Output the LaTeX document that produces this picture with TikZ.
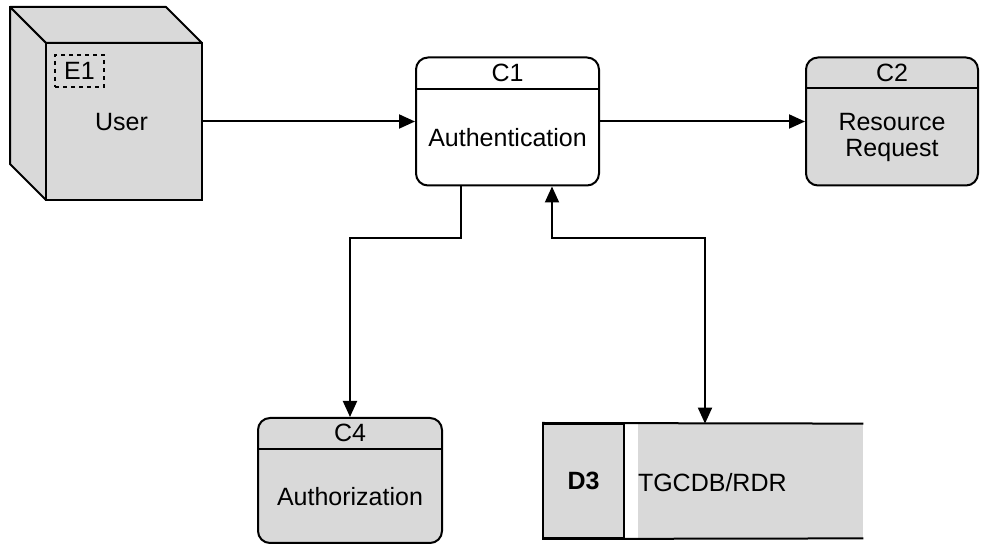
\documentclass[tikz,border=0pt]{standalone}
\usepackage{fontspec}
\setmainfont{Liberation Sans}
\usetikzlibrary{arrows.meta}
\definecolor{boxgray}{HTML}{D9D9D9}
\tikzset{
  proc/.style={draw,rounded corners=6pt,line width=1pt,inner sep=0pt,minimum height=64pt},
  flow/.style={-{Triangle[length=8pt,width=7pt]},line width=1pt},
}
\begin{document}
\begin{tikzpicture}[x=0.5pt,y=-0.5pt,font=\fontsize{12.5}{13}\selectfont]
\useasboundingbox (0,0) rectangle (981,544);
% external entity
\filldraw[fill=boxgray,line width=1pt,line join=round] (10,7) -- (166,7) -- (202,43) -- (46,43) -- cycle;
\filldraw[fill=boxgray,line width=1pt,line join=round] (10,7) -- (46,43) -- (46,200) -- (10,164) -- cycle;
\node[draw,fill=boxgray,line width=1pt,inner sep=0pt,minimum width=78pt,minimum height=78.5pt] (U) at (124,121.5) {};
\node[draw,dash pattern=on 2pt off 2pt,line width=0.7pt,inner sep=0pt,minimum width=24.5pt,minimum height=16pt] (E1) at (79.5,71) {E1};
\node (user) at (121.5,122) {User};
% processes
\node[proc,fill=white,minimum width=91.5pt] (C1) at (507.5,121.5) {};
\draw[line width=1pt] ([yshift=-16.25pt]C1.north west) -- ([yshift=-16.25pt]C1.north east);
\node at ([yshift=-8pt]C1.north) {C1};
\node (auth) at (507.5,138) {Authentication};
\node[proc,fill=boxgray,minimum width=86pt] (C2) at (892,121.5) {};
\draw[line width=1pt] ([yshift=-16pt]C2.north west) -- ([yshift=-16pt]C2.north east);
\node at ([yshift=-8pt]C2.north) {C2};
\node[align=center] (req) at (892,137.5) {Resource\\Request};
\node[proc,fill=boxgray,minimum width=92pt,minimum height=62.5pt] (C4) at (350,480.5) {};
\draw[line width=1pt] ([yshift=-16pt]C4.north west) -- ([yshift=-16pt]C4.north east);
\node at ([yshift=-8pt]C4.north) {C4};
\node (authz) at (350,497) {Authorization};
% data store
\node[fill=boxgray,inner sep=0pt,minimum width=112.5pt,minimum height=57pt] (tg) at (750.5,481) {};
\node[draw,fill=boxgray,line width=1pt,inner sep=0pt,minimum width=40.5pt,minimum height=57pt,font=\fontsize{12.5}{13}\selectfont\bfseries] (D3) at (583.5,481) {D3};
\draw[line width=1pt] (D3.north west) -- (tg.north east);
\draw[line width=1pt] (D3.south west) -- (tg.south east);
\node[anchor=west,inner sep=0pt] (rdr) at ([yshift=-1pt]tg.west) {TGCDB/RDR};
% flows
\draw[flow] (U.east) -- (C1.west);
\draw[flow] (C1.east) -- (C2.west);
\draw[flow] ([xshift=-23.25pt]C1.south) -- ++(0,52) -| (C4.north);
\draw[flow,{Triangle[length=8pt,width=7pt]}-{Triangle[length=8pt,width=7pt]}] ([xshift=22.25pt]C1.south) -- ++(0,52) -| ([xshift=-22.75pt]tg.north);
\end{tikzpicture}
\end{document}
